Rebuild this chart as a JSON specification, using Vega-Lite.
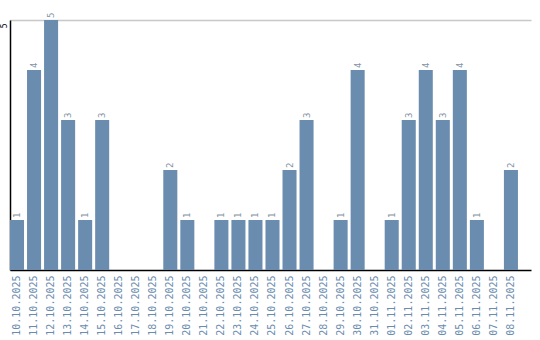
{
  "$schema": "https://vega.github.io/schema/vega-lite/v6.json",
  "width": 521,
  "height": 250,
  "autosize": {"type": "none"},
  "padding": {"left": 10, "top": 20, "right": 9, "bottom": 70},
  "background": "white",
  "config": {"view": {"stroke": null}, "font": "DejaVu Sans Mono"},
  "data": {"values": [
    {"date": "10.10.2025", "count": 1},
    {"date": "11.10.2025", "count": 4},
    {"date": "12.10.2025", "count": 5},
    {"date": "13.10.2025", "count": 3},
    {"date": "14.10.2025", "count": 1},
    {"date": "15.10.2025", "count": 3},
    {"date": "16.10.2025", "count": 0},
    {"date": "17.10.2025", "count": 0},
    {"date": "18.10.2025", "count": 0},
    {"date": "19.10.2025", "count": 2},
    {"date": "20.10.2025", "count": 1},
    {"date": "21.10.2025", "count": 0},
    {"date": "22.10.2025", "count": 1},
    {"date": "23.10.2025", "count": 1},
    {"date": "24.10.2025", "count": 1},
    {"date": "25.10.2025", "count": 1},
    {"date": "26.10.2025", "count": 2},
    {"date": "27.10.2025", "count": 3},
    {"date": "28.10.2025", "count": 0},
    {"date": "29.10.2025", "count": 1},
    {"date": "30.10.2025", "count": 4},
    {"date": "31.10.2025", "count": 0},
    {"date": "01.11.2025", "count": 1},
    {"date": "02.11.2025", "count": 3},
    {"date": "03.11.2025", "count": 4},
    {"date": "04.11.2025", "count": 3},
    {"date": "05.11.2025", "count": 4},
    {"date": "06.11.2025", "count": 1},
    {"date": "07.11.2025", "count": 0},
    {"date": "08.11.2025", "count": 2}
  ]},
  "encoding": {
    "x": {"field": "date", "type": "nominal", "sort": null,
      "scale": {"paddingInner": 0.176, "paddingOuter": 0.383, "align": 0},
      "axis": {"title": null, "labelAngle": -90, "labelAlign": "right", "labelBaseline": "middle", "labelColor": "#6a8cae", "labelFontSize": 10, "labelFont": "DejaVu Sans Mono", "ticks": false, "domainColor": "black", "domainWidth": 1.5, "labelPadding": 5}}
  },
  "layer": [
    {
      "mark": {"type": "bar", "color": "#6a8cae"},
      "encoding": {
        "y": {"field": "count", "type": "quantitative",
          "scale": {"domain": [0, 5], "nice": false},
          "axis": {"title": null, "values": [5], "labelAngle": -90, "labelAlign": "right", "labelBaseline": "bottom", "labelOffset": 3, "labelFontSize": 8, "labelColor": "black", "ticks": false, "labelPadding": 2, "domainColor": "black", "domainWidth": 1.5, "gridColor": "#c8c8c8", "gridWidth": 1.5, "grid": true}}
      }
    },
    {
      "transform": [{"filter": "datum.count > 0"}],
      "mark": {"type": "text", "angle": -90, "align": "left", "baseline": "middle", "dx": 2, "color": "#8494a4", "fontSize": 9, "font": "DejaVu Sans Mono"},
      "encoding": {
        "y": {"field": "count", "type": "quantitative"},
        "text": {"field": "count", "type": "quantitative"}
      }
    }
  ]
}
